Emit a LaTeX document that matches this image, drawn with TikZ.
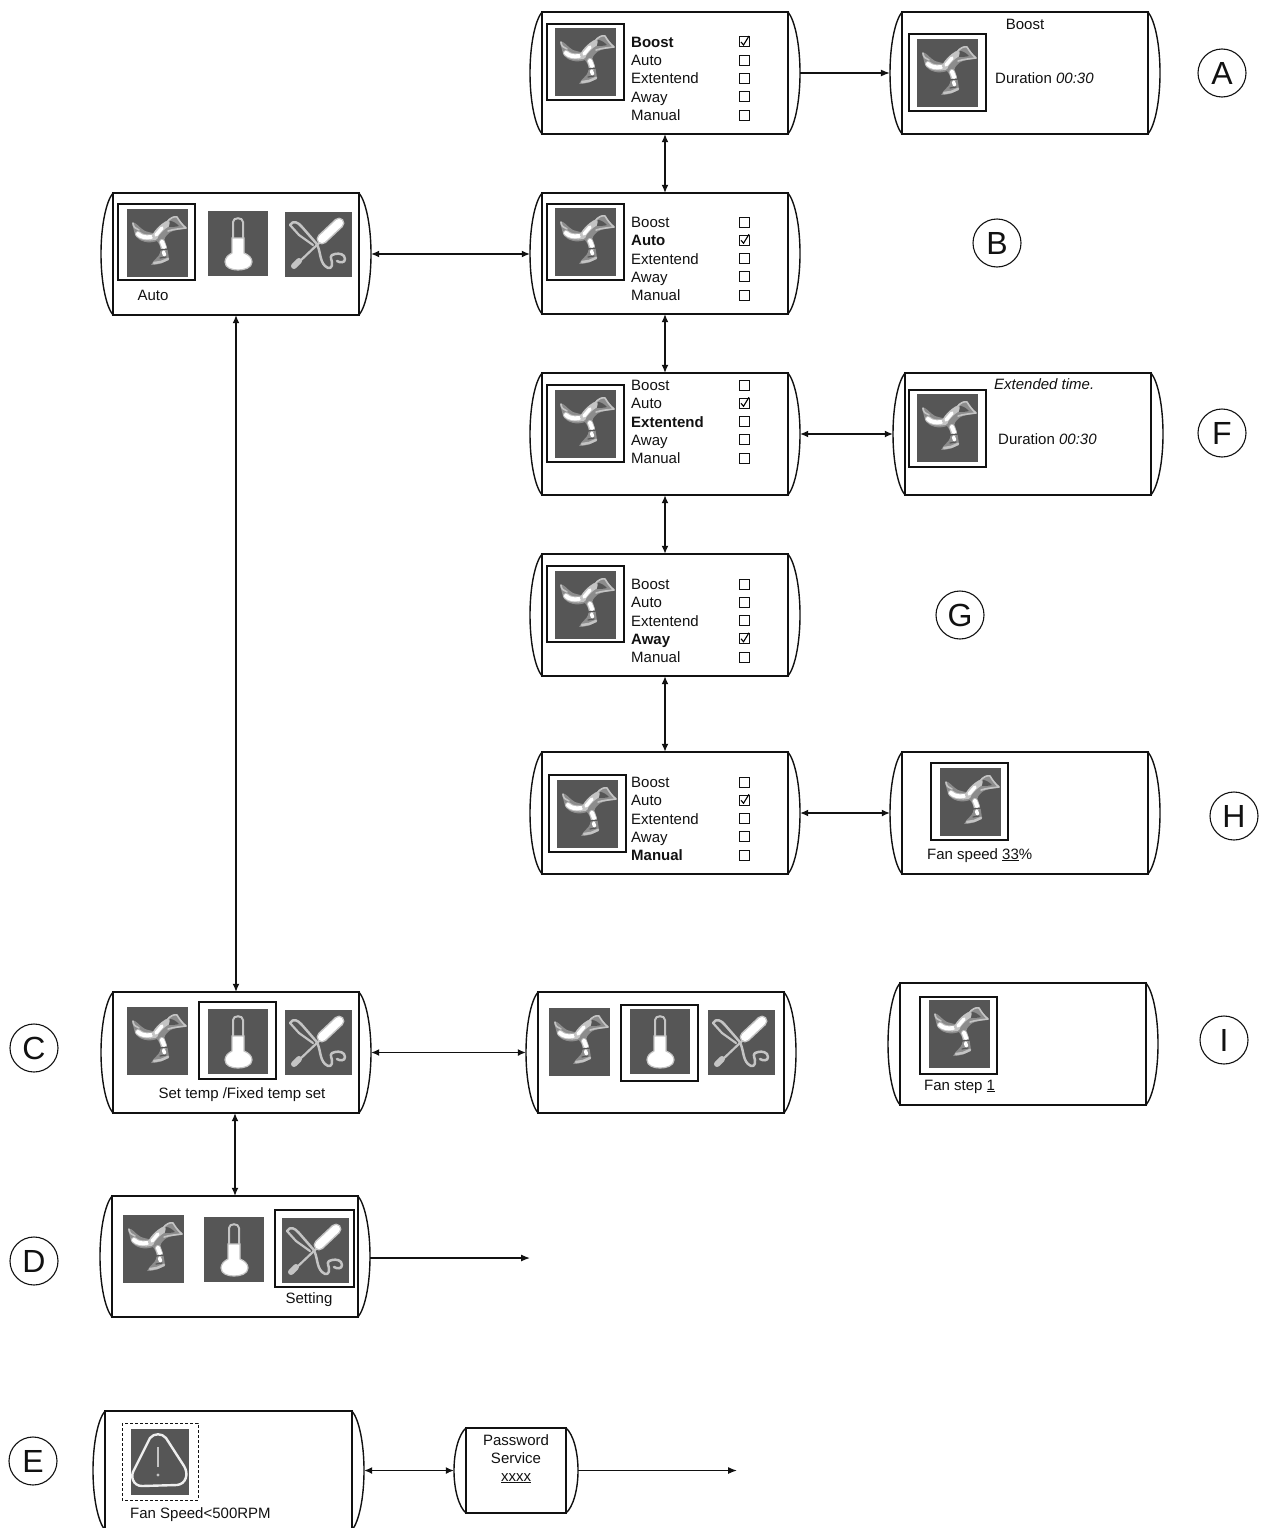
\documentclass[tikz,border=0pt]{standalone}
\usepackage{fontspec}
\setmainfont{Liberation Sans}
\usetikzlibrary{arrows.meta}
\definecolor{icongray}{HTML}{565656}
\definecolor{linecol}{HTML}{111111}
\definecolor{palecol}{HTML}{C4C4C4}
\definecolor{glowcol}{HTML}{8C8C8C}
\tikzset{
  lbl/.style={font=\fontsize{15}{18}\selectfont,text=linecol,inner sep=0pt,anchor=base west},
  lblc/.style={font=\fontsize{15}{18}\selectfont,text=linecol,inner sep=0pt,anchor=base},
  letter/.style={draw=linecol,circle,line width=1.1pt,minimum size=48pt,inner sep=0pt,font=\fontsize{32}{32}\selectfont,text=linecol},
  conn/.style={line width=1.2pt,draw=linecol},
  both/.style={conn,{Latex[length=8pt,width=7pt]}-{Latex[length=8pt,width=7pt]}},
  single/.style={conn,-{Latex[length=9pt,width=7pt]}},
  scr/.style={line width=1.4pt,draw=linecol},
  frm/.style={line width=1.3pt,draw=linecol},
}
\newcommand{\screenbox}[5]{%
  \node[minimum width={(#4-#2)*1pt},minimum height={(#5-#3)*1pt},inner sep=0pt] (#1) at ({(#2+#4)/2},{(#3+#5)/2}) {};
  \draw[scr] (#2+12,#3) -- (#4-12,#3) -- (#4-12,#5) -- (#2+12,#5) -- cycle;
  \draw[scr] (#2+12,#3) .. controls (#2+5,{#3+(#5-#3)*0.07}) and (#2,{#3+(#5-#3)*0.27}) .. (#2,{(#3+#5)/2})
     .. controls (#2,{#3+(#5-#3)*0.73}) and (#2+5,{#3+(#5-#3)*0.93}) .. (#2+12,#5);
  \draw[scr] (#4-12,#3) .. controls (#4-5,{#3+(#5-#3)*0.07}) and (#4,{#3+(#5-#3)*0.27}) .. (#4,{(#3+#5)/2})
     .. controls (#4,{#3+(#5-#3)*0.73}) and (#4-5,{#3+(#5-#3)*0.93}) .. (#4-12,#5);
}
\newcommand{\fanicon}[2]{%
  \begin{scope}[shift={(#1,#2)},line cap=round,line join=round]
  \fill[icongray] (0,0) rectangle (61,68);
  % soft blade bodies
  \fill[glowcol] (5,14) .. controls (9,12) and (12,19) .. (18,22) .. controls (24,24) and (27,24) .. (29,25) .. controls (33,18) and (38,11) .. (48,7) .. controls (52,9) and (54,14) .. (60,19) .. controls (52,21) and (46,21) .. (42,24) .. controls (39,27) and (37,29) .. (37,32) .. controls (41,38) and (41,44) .. (42,50) .. controls (39,53) and (32,56) .. (24,56) .. controls (27,50) and (32,48) .. (33,44) .. controls (35,39) and (32,35) .. (30,32) .. controls (22,35) and (12,33) .. (8,26) -- cycle;
  % left blade
  \draw[palecol,line width=6pt] (11,25) .. controls (15,29) and (22,29) .. (28,28);
  \draw[white,line width=4pt] (11,25) .. controls (14,28) and (19,29) .. (24,28);
  \draw[palecol,line width=1.6pt] (6,14) .. controls (6,18) and (9,20) .. (12,21);
  % right blade
  \draw[palecol,line width=6pt] (28,27) .. controls (31,22) and (35,18) .. (40,15);
  \draw[white,line width=3.5pt] (29,26) -- (35,19);
  \fill[icongray] (43,12) .. controls (46,12) and (49,14) .. (52,17) .. controls (48,18) and (45,18) .. (42,18) -- cycle;
  \draw[palecol,line width=1.6pt] (40,13) .. controls (43,9) and (47,7) .. (50,8) .. controls (52,11) and (54,15) .. (59,19) .. controls (52,20) and (47,20) .. (41,22);
  % stem
  \draw[palecol,line width=6pt] (35,33) -- (37,39);
  \draw[white,line width=4pt] (35,33) -- (37,38);
  \draw[white,line width=3.5pt] (36.5,43) -- (37.5,46);
  \draw[icongray,line width=1.2pt] (33,41) -- (41,40) (33,49) -- (39,48);
  \draw[palecol,line width=2.5pt] (27,54) -- (34,53) -- (41,50);
  \end{scope}
}
\newcommand{\thermicon}[2]{%
  \begin{scope}[shift={(#1,#2)}]
  \fill[icongray] (0,0) rectangle (60,65);
  \draw[palecol,line width=2pt] (25,27) -- (25,11) .. controls (25,6) and (35,6) .. (35,11) -- (35,27);
  \fill[white,draw=palecol,line width=1.2pt] (24,27) -- (36,27) -- (36,42) .. controls (41,44) and (44,47) .. (44,51) .. controls (44,57) and (36,59) .. (30,59) .. controls (24,59) and (17,57) .. (17,51) .. controls (17,47) and (20,44) .. (24,42) -- cycle;
  \end{scope}
}
\newcommand{\toolicon}[2]{%
  \begin{scope}[shift={(#1,#2)},line cap=round,line join=round]
  \fill[icongray] (0,0) rectangle (67,65);
  \draw[palecol,line width=2.5pt] (5,13) .. controls (8,8) and (13,10) .. (17,15) -- (31,31) .. controls (36,38) and (34,48) .. (40,54) .. controls (44,58) and (48,56) .. (47,50) .. controls (46,46) and (44,43) .. (50,42) .. controls (54,41) and (60,42) .. (60,47) .. controls (60,51) and (55,51) .. (52,49);
  \draw[palecol,line width=2.2pt] (5,13) -- (14,23) -- (28,33);
  \draw[palecol,line width=2.2pt] (34,31) -- (14,50);
  \draw[palecol,line width=6pt] (14,49) -- (9,54);
  \draw[palecol,line width=11pt] (37,27) -- (54,11);
  \draw[white,line width=8pt] (37,27) -- (54,11);
  \end{scope}
}
\newcommand{\warnicon}[2]{%
  \begin{scope}[shift={(#1,#2)}]
  \fill[icongray] (0,0) rectangle (58,66);
  \draw[white!90!icongray,line width=2.4pt] (19,9) .. controls (23,4) and (31,4) .. (35,9) -- (53,37) .. controls (58,45) and (55,55) .. (46,56) -- (11,57) .. controls (2,57) and (-1,47) .. (3,41) -- cycle;
  \draw[palecol,line width=2.2pt] (27,18) -- (27,38);
  \fill[palecol] (27,46) circle (1.6);
  \end{scope}
}
\newcommand{\menulist}[4]{%
  \foreach \i/\lab in {1/Boost,2/Auto,3/Extentend,4/Away,5/Manual}{%
    \pgfmathsetmacro{\ry}{#2+(\i-1)*18.25}
    \node[lbl,name=#1r\i] at (631,\ry+5.5) {\ifnum\i=#3 \bfseries\fi\lab};
    \draw[line width=1pt,draw=linecol] (739,\ry-5) rectangle (749,\ry+5);
    \ifnum\i=#4
      \draw[line width=1.1pt,draw=black] (741,\ry) -- (743.5,\ry+3) -- (749,\ry-6);
    \fi
  }%
}
\begin{document}
\begin{tikzpicture}[x=1pt,y=-1pt]
\useasboundingbox (0,0) rectangle (1266,1528);
% screens
\screenbox{A}{530}{12}{800}{134}
\screenbox{As}{890}{12}{1160}{134}
\screenbox{T}{101}{193}{371}{315}
\screenbox{B}{530}{193}{800}{314}
\screenbox{F}{530}{373}{800}{495}
\screenbox{Fs}{893}{373}{1163}{495}
\screenbox{G}{530}{554}{800}{676}
\screenbox{H}{530}{752}{800}{874}
\screenbox{Hs}{890}{752}{1160}{874}
\screenbox{C}{101}{992}{371}{1113}
\screenbox{Cs}{526}{992}{796}{1113}
\screenbox{I}{888}{983}{1158}{1105}
\screenbox{D}{100}{1196}{370}{1317}
\screenbox{E}{93}{1411}{364}{1530}
\screenbox{P}{454}{1428}{578}{1513}
% menus
\menulist{A}{42}{1}{1}
\menulist{B}{222}{2}{2}
\menulist{F}{385}{3}{2}
\menulist{G}{584}{4}{4}
\menulist{H}{782}{5}{2}
% frames and icons
\draw[frm] (547,24) rectangle (624,100); \fanicon{555}{28}
\draw[frm] (547,204) rectangle (624,280); \fanicon{555}{208}
\draw[frm] (547,385) rectangle (624,462); \fanicon{555}{390}
\draw[frm] (547,566) rectangle (624,642); \fanicon{555}{571}
\draw[frm] (549,775) rectangle (626,852); \fanicon{557}{780}
\draw[frm] (909,34) rectangle (986,111); \fanicon{917}{39}
\draw[frm] (909,390) rectangle (986,467); \fanicon{917}{394}
\draw[frm] (931,763) rectangle (1008,840); \fanicon{940}{768}
\draw[frm] (920,997) rectangle (997,1074); \fanicon{929}{1000}
\draw[frm] (118,204) rectangle (195,280); \fanicon{127}{209}
\thermicon{208}{211} \toolicon{285}{212}
\fanicon{127}{1007}
\draw[frm] (199,1002) rectangle (276,1079); \thermicon{208}{1009} \toolicon{285}{1010}
\fanicon{549}{1008}
\draw[frm] (621,1005) rectangle (698,1081); \thermicon{630}{1009} \toolicon{708}{1010}
\fanicon{123}{1215} \thermicon{204}{1217}
\draw[frm] (275,1210) rectangle (354,1287); \toolicon{282}{1218}
\draw[line width=1pt,densely dashed,draw=linecol] (122,1423) rectangle (198,1500); \warnicon{131}{1429}
% texts
\node[lblc] (tAs) at (1025,29.5) {Boost};
\node[lbl] (tAd) at (995,83.5) {Duration \textit{00:30}};
\node[lbl] (tFe) at (994,389) {\textit{Extended time.}};
\node[lbl] (tFd) at (998,444) {Duration \textit{00:30}};
\node[lbl] (tHs) at (927,859) {Fan speed \underline{33}\%};
\node[lbl] (tIs) at (924,1090) {Fan step \underline{1}};
\node[lblc] (tT) at (153,300) {Auto};
\node[lblc] (tC) at (242,1098.5) {Set temp /Fixed temp set};
\node[lblc] (tD) at (309,1303) {Setting};
\node[lbl] (tE) at (130,1518) {Fan Speed<500RPM};
\node[lblc] (tP1) at (516,1445) {Password};
\node[lblc] (tP2) at (516,1463) {Service};
\node[lblc] (tP3) at (516,1481) {\underline{xxxx}};
% letters
\node[letter] (LA) at (1222,73) {A};
\node[letter] (LB) at (997,243) {B};
\node[letter] (LF) at (1222,433) {F};
\node[letter] (LG) at (960,615) {G};
\node[letter] (LH) at (1234,816) {H};
\node[letter] (LI) at (1224,1040) {I};
\node[letter] (LC) at (34,1048) {C};
\node[letter] (LD) at (34,1261) {D};
\node[letter] (LE) at (33,1461) {E};
% free ends
\coordinate (Dstart) at (370,1258);
\coordinate (Dend) at (530,1258);
\coordinate (Pend) at (737,1470.5);
% connectors
\draw[single] (A.east) -- (As.west);
\draw[both] (A.south) -- (B.north);
\draw[both] (B.south) -- (F.north);
\draw[both,line width=1.5pt] (F.south) -- (G.north);
\draw[both,line width=1.5pt] (G.south) -- (H.north);
\draw[both] (T.east) -- (T.east -| B.west);
\draw[both] (F.east) -- (Fs.west);
\draw[both] (H.east) -- (Hs.west);
\draw[both] (T.south) -- (C.north);
\draw[both] (C.east) -- (Cs.west);
\draw[both] (D.north) -- (D.north |- C.south);
\draw[single] (Dstart) -- (Dend);
\draw[both] (E.east) -- (E.east -| P.west);
\draw[single] (P.east) -- (Pend);
\end{tikzpicture}
\end{document}
